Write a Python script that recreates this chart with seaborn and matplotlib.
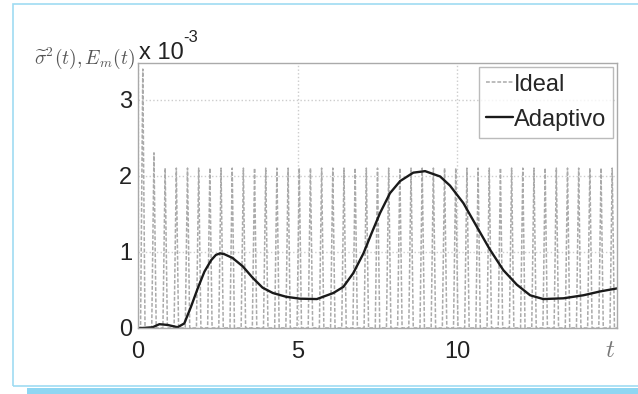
import numpy as np
import pandas as pd
import matplotlib
matplotlib.use("Agg")
import matplotlib.pyplot as plt
from matplotlib.patches import Rectangle
import seaborn as sns

# ---- data (values in units of 1e-3) ----
ideal_peak_t = [0.15, 0.50, 0.85, 1.20, 1.55, 1.90, 2.25, 2.60, 2.95, 3.30,
                3.65, 4.00, 4.35, 4.70, 5.05, 5.40, 5.75, 6.10, 6.45, 6.80,
                7.15, 7.50, 7.85, 8.20, 8.55, 8.90, 9.25, 9.60, 9.95, 10.30,
                10.65, 11.00, 11.35, 11.70, 12.05, 12.40, 12.75, 13.10, 13.45,
                13.80, 14.15, 14.50, 14.85]
ideal_peak_v = [3.40, 2.30] + [2.10] * 41
ideal_trough_v = 0.0
ideal_half_width = 0.07

adapt_t = [0.0, 0.15, 0.46, 0.67, 0.93, 1.24, 1.45, 1.66, 1.87, 2.08, 2.29,
           2.44, 2.57, 2.70, 2.96, 3.28, 3.59, 3.90, 4.22, 4.64, 5.07, 5.60,
           6.12, 6.43, 6.74, 7.06, 7.32, 7.58, 7.89, 8.21, 8.62, 8.99, 9.46,
           9.77, 10.19, 10.61, 11.02, 11.44, 11.86, 12.28, 12.69, 13.32, 13.95,
           14.47, 15.0]
adapt_v = [0.0, 0.0, 0.01, 0.05, 0.04, 0.01, 0.06, 0.28, 0.52, 0.74, 0.89,
           0.96, 0.98, 0.97, 0.92, 0.81, 0.66, 0.53, 0.46, 0.41, 0.385, 0.38,
           0.46, 0.54, 0.72, 0.98, 1.25, 1.51, 1.77, 1.93, 2.04, 2.06, 1.99,
           1.87, 1.64, 1.33, 1.03, 0.76, 0.57, 0.43, 0.38, 0.39, 0.43,
           0.48, 0.52]

x_ticks = [0, 5, 10]
y_ticks = [0, 1, 2, 3]

# build ideal trace: narrow spikes at the peak times
it, iv = [0.0], [ideal_trough_v]
for t, v in zip(ideal_peak_t, ideal_peak_v):
    it += [max(t - ideal_half_width, 0.0), t, t + ideal_half_width]
    iv += [ideal_trough_v, v, ideal_trough_v]
it.append(15.0); iv.append(ideal_trough_v)
df_ideal = pd.DataFrame({"t": it, "v": iv})
df_adapt = pd.DataFrame({"t": adapt_t, "v": adapt_v})

sns.set_style("white")
plt.rcParams["font.family"] = ["Liberation Sans", "DejaVu Sans"]
plt.rcParams["mathtext.fontset"] = "cm"

fig = plt.figure(figsize=(6.38, 3.94), dpi=100)
fig.patch.set_facecolor("white")
# light-blue frame
fig.patches.append(Rectangle((13 / 638, (394 - 386) / 394), 1.0, 1 - 4 / 394 - 8 / 394,
                             transform=fig.transFigure, fill=False,
                             edgecolor="#9fdcf2", linewidth=1.2))
fig.patches.append(Rectangle((27 / 638, 0), 1.0, 6 / 394, transform=fig.transFigure,
                             facecolor="#8fd6f2", edgecolor="none"))

ax = fig.add_axes([138 / 638, (394 - 328) / 394, 479 / 638, 265 / 394])

sns.lineplot(data=df_ideal, x="t", y="v", ax=ax, color="#aaaaaa", lw=1.1,
             linestyle=(0, (2.5, 1.2)), label="Ideal", estimator=None, sort=False)
sns.lineplot(data=df_adapt, x="t", y="v", ax=ax, color="#1a1a1a", lw=1.7,
             label="Adaptivo", estimator=None, sort=False)

ax.set_xlim(0, 15)
ax.set_ylim(0, 3.48)
ax.set_xticks(x_ticks)
ax.set_yticks(y_ticks)
ax.set_xticklabels([str(v) for v in x_ticks])
ax.set_yticklabels([str(v) for v in y_ticks])
ax.tick_params(axis="both", labelsize=17, colors="#222222", length=3, direction="in")
ax.tick_params(axis="both", color="#999999")
ax.tick_params(axis="x", pad=9)
ax.tick_params(axis="y", pad=4)
ax.set_xlabel("")
ax.set_ylabel("")
ax.grid(True, color="#cccccc", linestyle=":", linewidth=1.0)
for s in ax.spines.values():
    s.set_color("#aaaaaa")
    s.set_linewidth(1.0)

leg = ax.legend(loc="upper right", fontsize=17, handlelength=1.15, handletextpad=0.05,
                borderpad=0.3, labelspacing=0.55, frameon=True, fancybox=False,
                borderaxespad=0.15)
leg.get_frame().set_edgecolor("#aaaaaa")
leg.get_frame().set_linewidth(1.0)

fig.text(135 / 638, 1 - 58 / 394, r"$\widetilde{\sigma}^2(t), E_m(t)$", ha="right",
         va="center", fontsize=14, color="#555555")
fig.text(139 / 638, 1 - 59 / 394, r"x 10", ha="left", va="baseline", fontsize=17,
         color="#222222")
fig.text(183 / 638, 1 - 42 / 394, r"-3", ha="left", va="baseline", fontsize=12,
         color="#222222")
fig.text(610 / 638, 1 - 357 / 394, r"$t$", ha="center", va="baseline", fontsize=18,
         color="#777777")

fig.savefig("out.png", dpi=100, facecolor="white")
